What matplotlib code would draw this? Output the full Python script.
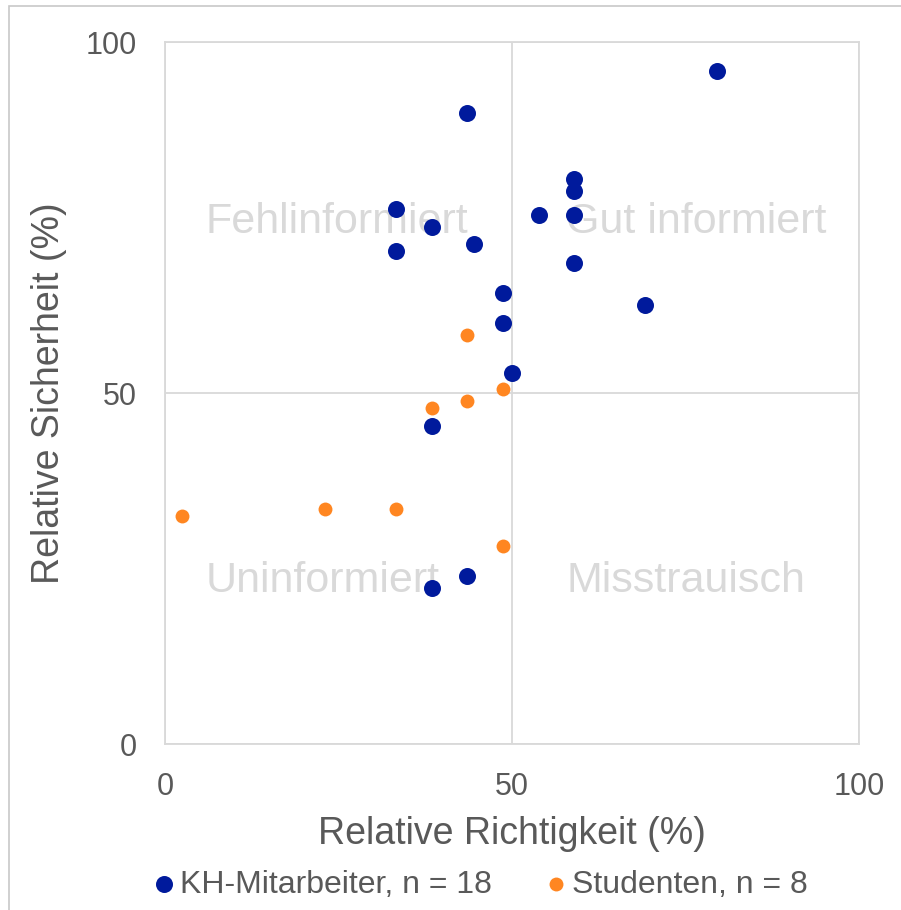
import matplotlib.pyplot as plt
from matplotlib.patches import Rectangle

plt.rcParams['font.family'] = ['Liberation Sans', 'DejaVu Sans']

# KH-Mitarbeiter (relative Richtigkeit, relative Sicherheit)
kh_x = [79.5, 43.5, 58.9, 58.9, 58.9, 53.9, 33.3, 38.5, 44.5, 33.3,
        58.9, 69.2, 48.7, 48.7, 50.0, 38.5, 43.5, 38.5]
kh_y = [95.9, 89.9, 80.5, 78.8, 75.4, 75.4, 76.2, 73.6, 71.2, 70.2,
        68.5, 62.5, 64.2, 60.0, 52.8, 45.3, 23.9, 22.2]

# Studenten
st_x = [43.5, 48.7, 43.5, 38.5, 2.4, 23.1, 33.3, 48.7]
st_y = [58.3, 50.6, 48.9, 47.9, 32.5, 33.5, 33.5, 28.2]

labels = ['KH-Mitarbeiter, n = 18', 'Studenten, n = 8']
quadrants = ['Fehlinformiert', 'Gut informiert', 'Uninformiert', 'Misstrauisch']

blue = '#001a9c'
orange = '#ff8621'
grey = '#d9d9d9'
text_col = '#595959'

fig = plt.figure(figsize=(9.01, 9.10), dpi=100)
ax = fig.add_axes([0.1831, 0.1824, 0.7703, 0.7714])

# outer chart frame (only left/top visible)
fig.patches.append(Rectangle((8.5 / 901, -0.1), 2, (910 - 6.5) / 910 + 0.1,
                             transform=fig.transFigure, fill=False,
                             edgecolor='#c8c8c8', lw=1.2))

ax.set_xlim(0, 100)
ax.set_ylim(0, 100)
ax.set_xticks([0, 50, 100])
ax.set_yticks([0, 50, 100])
ax.grid(True, color=grey, lw=1.3)
ax.set_axisbelow(True)
for s in ax.spines.values():
    s.set_color(grey)
    s.set_linewidth(1.3)
ax.tick_params(length=0, labelsize=22, labelcolor=text_col)
ax.tick_params(axis='y', pad=20)
ax.tick_params(axis='x', pad=20)

# quadrant labels
qpos = [(5.8, 74.3), (57.8, 74.3), (5.8, 23.2), (57.8, 23.2)]
for (qx, qy), q in zip(qpos, quadrants):
    ax.text(qx, qy, q, fontsize=31, color=grey, va='center', ha='left', zorder=1)

ax.scatter(kh_x, kh_y, s=150, color=blue, zorder=3, label=labels[0], linewidths=0)
ax.scatter(st_x, st_y, s=100, color=orange, zorder=3, label=labels[1], linewidths=0)

ax.set_xlabel('Relative Richtigkeit (%)', fontsize=27, color=text_col, labelpad=10)
ax.set_ylabel('Relative Sicherheit (%)', fontsize=27, color=text_col, labelpad=14)

fig.legend(loc='center', bbox_to_anchor=(0.534, 0.028), ncol=2, frameon=False,
           fontsize=23, labelcolor=text_col, handlelength=0.6, handletextpad=0.2,
           columnspacing=1.7, borderaxespad=0)

fig.savefig('out.png', dpi=100)
